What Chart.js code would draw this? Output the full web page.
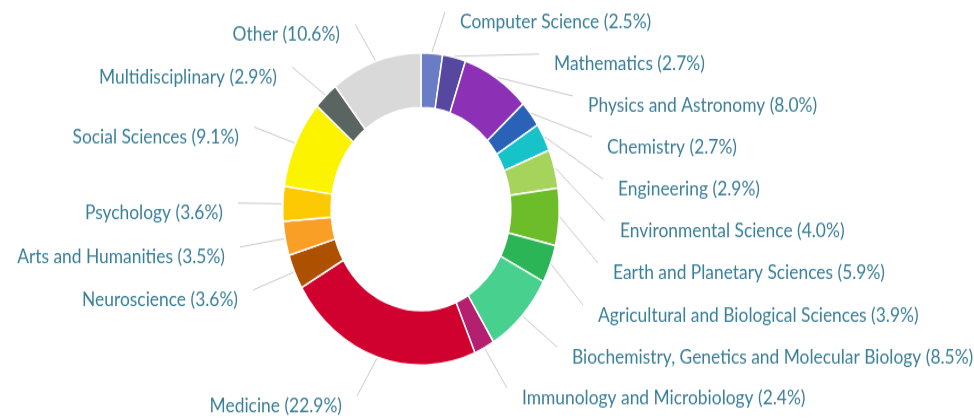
<!DOCTYPE html>
<html>
<head>
<meta charset="utf-8">
<script src="https://cdn.jsdelivr.net/npm/chart.js@4"></script>
<style>
  html, body { margin: 0; padding: 0; background: #fff; }
  #chart { display: block; }
</style>
</head>
<body>
<canvas id="chart" width="974" height="371" style="width:974px;height:419px"></canvas>
<script>
// Subject areas, clockwise from 12 o'clock
const categories = [
    'Computer Science', 'Mathematics', 'Physics and Astronomy', 'Chemistry',
    'Engineering', 'Environmental Science', 'Earth and Planetary Sciences',
    'Agricultural and Biological Sciences', 'Biochemistry, Genetics and Molecular Biology',
    'Immunology and Microbiology', 'Medicine', 'Neuroscience', 'Arts and Humanities',
    'Psychology', 'Social Sciences', 'Multidisciplinary', 'Other'
];
const shares = [2.5, 2.7, 8.0, 2.7, 2.9, 4.0, 5.9, 3.9, 8.5, 2.4, 22.9, 3.6, 3.5, 3.6, 9.1, 2.9, 10.6];
const colors = [
    '#6b7cc6', '#5647a0', '#8c30b6', '#2a62b8', '#17c2c9', '#a6d35c', '#6dbd2b',
    '#2cb556', '#48d08e', '#b41f6f', '#d0002f', '#ad5100', '#f99f26', '#fcc902',
    '#fbf300', '#5a6460', '#d9d9d9'
];

// label anchors in page pixels: [x, centre y]; right-side labels start at x, left-side labels end at x
const labelX = [460, 554, 588, 607, 618, 620, 613, 598, 572, 522, 342, 238, 225, 223, 239, 277, 340];
const labelY = [22, 64, 106, 147, 189, 231, 273, 315, 357, 398, 406, 300, 257, 213, 137, 77, 34];
const labelSide = ['r', 'r', 'r', 'r', 'r', 'r', 'r', 'r', 'r', 'r', 'l', 'l', 'l', 'l', 'l', 'l', 'l'];

const TEXT_COLOR = '#3a7f98';
const LINE_COLOR = '#c9c9c9';
const STRETCH = 419 / 371; // canvas is drawn 371 high and shown 419 high

const leaderLabels = {
    id: 'leaderLabels',
    afterDatasetsDraw(chart) {
        const { ctx } = chart;
        const meta = chart.getDatasetMeta(0);
        ctx.save();
        ctx.font = '17.4px Lato';
        ctx.textBaseline = 'middle';
        meta.data.forEach((arc, i) => {
            const { x, y, startAngle, endAngle, outerRadius } =
                arc.getProps(['x', 'y', 'startAngle', 'endAngle', 'outerRadius'], true);
            const mid = (startAngle + endAngle) / 2;
            const sx = x + Math.cos(mid) * (outerRadius + 1);
            const sy = y + Math.sin(mid) * (outerRadius + 1);
            const right = labelSide[i] === 'r';
            const ex = right ? labelX[i] - 15 : labelX[i] + 15;
            const ey = (labelY[i] - 10) / STRETCH;

            ctx.strokeStyle = LINE_COLOR;
            ctx.lineWidth = 1;
            ctx.beginPath();
            ctx.moveTo(sx, sy);
            ctx.lineTo(ex, ey);
            ctx.stroke();

            const value = chart.data.datasets[0].data[i];
            ctx.fillStyle = TEXT_COLOR;
            ctx.textAlign = right ? 'left' : 'right';
            ctx.fillText(`${chart.data.labels[i]} (${value.toFixed(1)}%)`, labelX[i], labelY[i] / STRETCH);
        });
        ctx.restore();
    }
};

new Chart(document.getElementById('chart'), {
    type: 'doughnut',
    plugins: [leaderLabels],
    data: {
        labels: categories,
        datasets: [{
            data: shares,
            backgroundColor: colors,
            borderColor: '#ffffff',
            borderWidth: 1.5,
            hoverOffset: 0
        }]
    },
    options: {
        responsive: false,
        devicePixelRatio: 1,
        animation: false,
        cutout: '65%',
        layout: {
            padding: { left: 282, right: 414, top: 46, bottom: 47 }
        },
        plugins: {
            legend: { display: false },
            tooltip: { enabled: false }
        },
        events: []
    }
});
</script>
</body>
</html>
